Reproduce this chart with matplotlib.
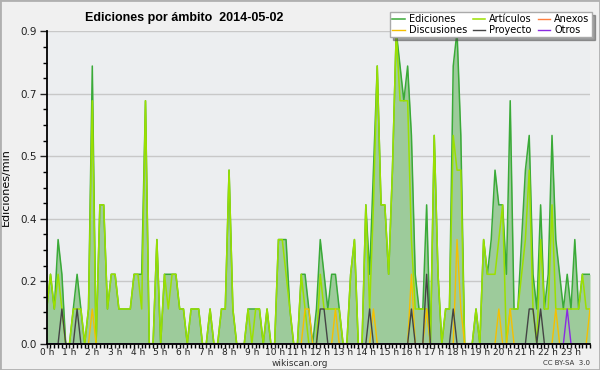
import numpy as np
import matplotlib
matplotlib.use("Agg")
import matplotlib.pyplot as plt
from matplotlib.ticker import MultipleLocator
from matplotlib.patches import Rectangle

# edits per 10-minute bin, 144 bins (00:00 .. 23:50)
ediciones = [
    1, 2, 1, 3, 2, 0, 0, 1, 2, 1,
    0, 1, 8, 0, 4, 4, 1, 2, 2, 1,
    1, 1, 1, 2, 2, 2, 7, 0, 0, 3,
    0, 2, 2, 2, 2, 1, 1, 0, 1, 1,
    1, 0, 0, 1, 0, 0, 1, 1, 5, 1,
    0, 0, 0, 1, 1, 1, 1, 0, 1, 0,
    0, 3, 3, 3, 1, 0, 0, 2, 2, 1,
    0, 1, 3, 2, 1, 2, 2, 1, 0, 0,
    2, 3, 0, 0, 4, 2, 5, 8, 4, 4,
    2, 5, 9, 8, 7, 8, 6, 2, 1, 1,
    4, 0, 6, 2, 0, 1, 1, 8, 9, 6,
    0, 0, 0, 1, 0, 3, 2, 3, 5, 4,
    4, 2, 7, 1, 1, 3, 5, 6, 2, 1,
    4, 1, 2, 6, 3, 2, 1, 2, 1, 3,
    1, 2, 2, 2]

articulos = [
    1, 2, 1, 2, 1, 0, 0, 1, 1, 1,
    0, 1, 7, 0, 4, 4, 1, 2, 2, 1,
    1, 1, 1, 2, 2, 1, 7, 0, 0, 3,
    0, 2, 1, 2, 2, 1, 1, 0, 1, 1,
    1, 0, 0, 1, 0, 0, 1, 1, 5, 1,
    0, 0, 0, 1, 0, 1, 1, 0, 1, 0,
    0, 3, 3, 2, 1, 0, 0, 2, 1, 0,
    0, 0, 2, 1, 1, 1, 1, 1, 0, 0,
    2, 3, 0, 0, 4, 1, 4, 8, 4, 4,
    2, 5, 9, 7, 7, 7, 3, 1, 1, 1,
    1, 0, 6, 2, 0, 1, 1, 6, 5, 5,
    0, 0, 0, 1, 0, 3, 2, 2, 2, 3,
    4, 0, 1, 1, 1, 2, 3, 5, 1, 0,
    3, 1, 1, 4, 1, 1, 1, 1, 1, 1,
    1, 2, 1, 1]

discusiones = [0] * 144
for k, v in {12: 1, 68: 1, 69: 1, 76: 1, 86: 1, 96: 2, 100: 1, 108: 3,
             109: 1, 119: 1, 122: 1, 134: 1, 143: 1}.items():
    discusiones[k] = v

proyecto = [0] * 144
for k, v in {4: 1, 8: 1, 72: 1, 73: 1, 85: 1, 96: 1, 100: 2, 107: 1,
             127: 1, 128: 1, 130: 1}.items():
    proyecto[k] = v

anexos = [0] * 144
otros = [0] * 144
otros[137] = 1

hours = np.arange(144) / 6.0
per_min = lambda s: np.array(s) / 10.0

fig = plt.figure(figsize=(6, 3.7), dpi=100, facecolor="#f0f0f0")
ax = fig.add_axes([46.7 / 600, 1 - 343.7 / 370, (590 - 46.7) / 600, (343.7 - 31.3) / 370])
ax.set_facecolor("#eceef0")

ax.fill_between(hours, per_min(ediciones), color="#9dcb9b", zorder=2, lw=0)
l_ed, = ax.plot(hours, per_min(ediciones), color="#3aaa38", lw=1.1, zorder=3)
l_an, = ax.plot(hours, per_min(anexos), color="#ff7f40", lw=1, zorder=3)
l_di, = ax.plot(hours, per_min(discusiones), color="#f5c000", lw=1, zorder=4)
l_pr, = ax.plot(hours, per_min(proyecto), color="#444444", lw=1, zorder=4)
l_ot, = ax.plot(hours, per_min(otros), color="#8a2be2", lw=1, zorder=4)
l_ar, = ax.plot(hours, per_min(articulos), color="#9be000", lw=1.1, zorder=3)

ax.set_xlim(0, 143 / 6)
ax.set_ylim(0, 0.9)

yt = np.linspace(0, 0.9, 6)
ax.set_yticks(yt)
ax.set_yticklabels([f"{v:.1f}" for v in yt])
ax.yaxis.set_minor_locator(MultipleLocator(0.045))
ax.set_xticks(range(24))
ax.set_xticklabels([f"{h} h" for h in range(24)])
ax.xaxis.set_minor_locator(MultipleLocator(1 / 6))
ax.tick_params(axis="both", colors="#222222", width=1)
ax.tick_params(axis="y", which="major", length=5, pad=2, labelsize=7.5)
ax.tick_params(axis="y", which="minor", length=3, width=1)
ax.tick_params(axis="x", which="major", length=3, pad=0, labelsize=6.5)
ax.tick_params(axis="x", which="minor", length=3, width=1)
ax.grid(axis="y", color="#c8c8c8", lw=1, zorder=1)
ax.set_axisbelow(True)
for s in ["top", "right"]:
    ax.spines[s].set_visible(False)
for s in ["left", "bottom"]:
    ax.spines[s].set_color("black")
    ax.spines[s].set_linewidth(1.3)
    ax.spines[s].set_zorder(6)

ax.set_ylabel("Ediciones/min", fontsize=8, labelpad=7)

fig.text(85 / 600, 1 - 18 / 370, "Ediciones por ámbito  2014-05-02",
         fontsize=9, fontweight="bold", ha="left", va="center",
         family="Liberation Sans")
fig.text(300 / 600, 1 - 363.5 / 370, "wikiscan.org", fontsize=6.5,
         ha="center", va="center", color="#333333")
fig.text(590 / 600, 1 - 363 / 370, "CC BY-SA  3.0", fontsize=5,
         ha="right", va="center", color="#333333")

leg = fig.legend([l_ed, l_di, l_ar, l_pr, l_an, l_ot],
                 ["Ediciones", "Discusiones", "Artículos", "Proyecto", "Anexos", "Otros"],
                 ncol=3, loc="upper right", bbox_to_anchor=(592 / 600, 1 - 12 / 370),
                 fontsize=7, frameon=True, fancybox=False, shadow=True,
                 handlelength=1.3, handletextpad=0.4, columnspacing=0.6,
                 labelspacing=0.05, borderpad=0.25, borderaxespad=0)
leg.get_frame().set_edgecolor("#aaaaaa")
leg.get_frame().set_linewidth(1)

fig.patches.append(Rectangle((0, 0), 1, 1, transform=fig.transFigure,
                             fill=False, edgecolor="#b0b0b0", lw=2))

fig.savefig("out.png", dpi=100, facecolor=fig.get_facecolor())
